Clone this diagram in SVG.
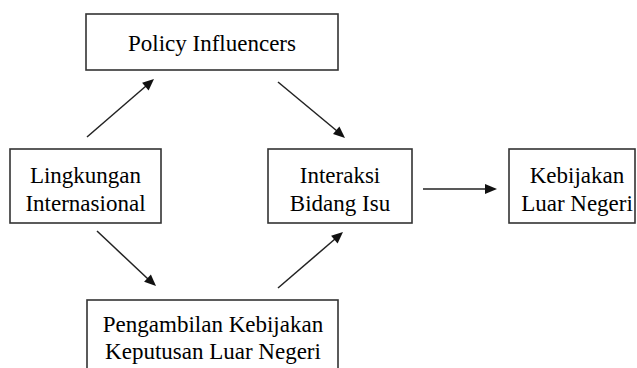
<svg xmlns="http://www.w3.org/2000/svg" width="637" height="368" viewBox="0 0 637 368">
<style>
.box{fill:#fff;stroke:#333;stroke-width:1.6}
.c{stroke:#222;stroke-width:1.5;fill:none}
.h{fill:#111}
</style>
<rect width="637" height="368" fill="#fff"/>
<g id="policy">
<rect class="box" x="86" y="14" width="252" height="56"/>
<text font-family="Liberation Serif" font-size="23" text-anchor="middle" x="212" y="51">Policy Influencers</text>
</g>
<g id="lingkungan">
<rect class="box" x="10" y="149" width="151" height="74"/>
<text font-family="Liberation Serif" font-size="23" text-anchor="middle" x="85.5" y="183">Lingkungan</text>
<text font-family="Liberation Serif" font-size="23" text-anchor="middle" x="85.5" y="211">Internasional</text>
</g>
<g id="interaksi">
<rect class="box" x="268" y="149" width="144" height="74"/>
<text font-family="Liberation Serif" font-size="23" text-anchor="middle" x="340" y="183">Interaksi</text>
<text font-family="Liberation Serif" font-size="23" text-anchor="middle" x="340" y="211">Bidang Isu</text>
</g>
<g id="kebijakan">
<rect class="box" x="509" y="149" width="126" height="74"/>
<text font-family="Liberation Serif" font-size="23" text-anchor="middle" x="577" y="183">Kebijakan</text>
<text font-family="Liberation Serif" font-size="23" text-anchor="middle" x="577" y="211">Luar Negeri</text>
</g>
<g id="pengambilan">
<rect class="box" x="87" y="300" width="251" height="80"/>
<text font-family="Liberation Serif" font-size="23" text-anchor="middle" x="213" y="332">Pengambilan Kebijakan</text>
<text font-family="Liberation Serif" font-size="23" text-anchor="middle" x="213" y="359">Keputusan Luar Negeri</text>
</g>
<g id="connectors">
<line class="c" x1="87" y1="137" x2="146" y2="86"/>
<polygon class="h" points="154,79 148.6,90.4 142.1,82.8"/>
<line class="c" x1="278" y1="82" x2="337" y2="131"/>
<polygon class="h" points="345,138 333.0,134.1 339.4,126.4"/>
<line class="c" x1="97" y1="231" x2="148" y2="279"/>
<polygon class="h" points="156,286 144.1,281.7 150.9,274.4"/>
<line class="c" x1="278" y1="288" x2="335" y2="239"/>
<polygon class="h" points="343,232 337.6,243.4 331.1,235.8"/>
<line class="c" x1="423" y1="189" x2="486" y2="189"/>
<polygon class="h" points="497,189 485,184 485,194"/>
</g>
</svg>
